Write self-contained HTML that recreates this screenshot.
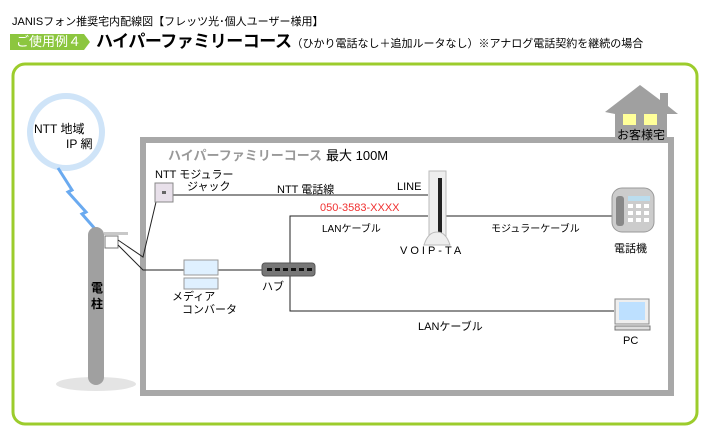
<!DOCTYPE html>
<html><head><meta charset="utf-8"><style>
body{margin:0;width:710px;height:439px;background:#fff;position:relative;overflow:hidden;font-family:"Liberation Sans","Noto Sans CJK JP",sans-serif;color:#000}
.a{position:absolute;white-space:nowrap}
</style></head><body>
<div class="a" style="left:12px;top:13px;font-size:11px">JANISフォン推奨宅内配線図【フレッツ光･個人ユーザー様用】</div>
<svg class="a" style="left:0;top:0" width="710" height="439">
<polygon points="10,34 84,34 90,42 84,50 10,50" fill="#8cc63f"/>
<rect x="13" y="64" width="684" height="360" rx="12" fill="none" stroke="#9ccc2c" stroke-width="3"/>
<circle cx="66" cy="132" r="36" fill="#fff" stroke="#cfe4f8" stroke-width="6"/>
<polyline points="58,168 72,190 68,192 86,212 82,214 96,230" fill="none" stroke="#6aaaf0" stroke-width="3"/>
<ellipse cx="96" cy="384" rx="40" ry="7" fill="#e4e4e4"/>
<rect x="88" y="227" width="16" height="158" rx="8" fill="#a0a0a0"/>
<rect x="104" y="232" width="24" height="3" fill="#c8c8c8"/>
<rect x="105" y="236" width="13" height="12" fill="#fff" stroke="#777"/>
<polygon points="605,112 640,85 660,100 660,93 668,93 668,106 678,114 667,114 667,140 615,140 615,114" fill="#a0a0a0"/>
<rect x="623" y="114" width="13" height="11" fill="#ffff99"/><rect x="644" y="114" width="13" height="11" fill="#ffff99"/>
<rect x="143" y="140" width="528" height="253" fill="none" stroke="#a8a8a8" stroke-width="6"/>
<g stroke="#222" stroke-width="1" fill="none">
<polyline points="118,240 143,257 156,202"/>
<polyline points="118,245 143,270 185,270"/>
<line x1="173" y1="195" x2="428" y2="195"/>
<polyline points="290,276 290,216 428,216"/>
<line x1="444" y1="216" x2="613" y2="216"/>
<line x1="218" y1="270" x2="262" y2="270"/>
<polyline points="290,276 290,311 614,311"/>
</g>
<rect x="155" y="183" width="18" height="19" fill="#e8e0ea" stroke="#888"/><rect x="162" y="191" width="4" height="3" fill="#666"/>
<rect x="184" y="260" width="34" height="15" fill="#dff0ff" stroke="#999"/><rect x="184" y="278" width="34" height="11" fill="#dff0ff" stroke="#999"/>
<rect x="262" y="263" width="53" height="13" rx="3" fill="#777" stroke="#555"/>
<g fill="#111"><rect x="267" y="268" width="5" height="3"/><rect x="275" y="268" width="5" height="3"/><rect x="283" y="268" width="5" height="3"/><rect x="291" y="268" width="5" height="3"/><rect x="299" y="268" width="5" height="3"/><rect x="307" y="268" width="5" height="3"/></g>
<rect x="429" y="171" width="17" height="66" fill="#eee" stroke="#bbb"/><rect x="438" y="178" width="4" height="55" fill="#222"/>
<path d="M424,245 Q428,232 437,232 Q446,232 450,245 Z" fill="#eee" stroke="#bbb"/>
<rect x="612" y="188" width="42" height="44" rx="10" fill="#ccc" stroke="#999"/>
<rect x="616" y="196" width="8" height="30" rx="3" fill="#888"/>
<rect x="628" y="196" width="22" height="5" fill="#bde"/>
<g fill="#fff"><rect x="628" y="204" width="5" height="4"/><rect x="636" y="204" width="5" height="4"/><rect x="644" y="204" width="5" height="4"/><rect x="628" y="211" width="5" height="4"/><rect x="636" y="211" width="5" height="4"/><rect x="644" y="211" width="5" height="4"/><rect x="628" y="218" width="5" height="4"/><rect x="636" y="218" width="5" height="4"/><rect x="644" y="218" width="5" height="4"/></g>
<rect x="615" y="299" width="34" height="25" fill="#eee" stroke="#888"/><rect x="619" y="302" width="26" height="18" fill="#bde0ff"/>
<rect x="615" y="326" width="35" height="4" fill="#ddd" stroke="#777"/>
</svg>
<div class="a" style="left:16px;top:34px;font-size:13px;color:#fff;line-height:16px">ご使用例４</div>
<div class="a" style="left:96px;top:31px;font-size:17px;font-weight:bold;line-height:21px;letter-spacing:-0.5px">ハイパーファミリーコース<span style="font-size:11px;font-weight:normal;letter-spacing:0">（ひかり電話なし＋追加ルータなし）※アナログ電話契約を継続の場合</span></div>
<div class="a" style="left:34px;top:120px;font-size:12px">NTT 地域</div>
<div class="a" style="left:66px;top:135px;font-size:12px">IP 網</div>
<div class="a" style="left:91px;top:280px;font-size:12px;line-height:16px;width:12px;font-weight:bold">電<br>柱</div>
<div class="a" style="left:168px;top:145px;font-size:13px;font-weight:bold;color:#999">ハイパーファミリーコース</div>
<div class="a" style="left:326px;top:145px;font-size:13px">最大 100M</div>
<div class="a" style="left:617px;top:126px;font-size:12px">お客様宅</div>
<div class="a" style="left:155px;top:166px;font-size:11px">NTT モジュラー</div>
<div class="a" style="left:187px;top:178px;font-size:11px">ジャック</div>
<div class="a" style="left:277px;top:181px;font-size:11px">NTT 電話線</div>
<div class="a" style="left:397px;top:181px;font-size:11px">LINE</div>
<div class="a" style="left:320px;top:202px;font-size:11px;color:#f03030">050-3583-XXXX</div>
<div class="a" style="left:322px;top:220px;font-size:10px">LANケーブル</div>
<div class="a" style="left:400px;top:245px;font-size:11px;letter-spacing:3px">VOIP-TA</div>
<div class="a" style="left:491px;top:220px;font-size:10px">モジュラーケーブル</div>
<div class="a" style="left:614px;top:240px;font-size:11px">電話機</div>
<div class="a" style="left:172px;top:288px;font-size:11px">メディア</div>
<div class="a" style="left:182px;top:301px;font-size:11px">コンバータ</div>
<div class="a" style="left:262px;top:278px;font-size:11px">ハブ</div>
<div class="a" style="left:418px;top:318px;font-size:11px">LANケーブル</div>
<div class="a" style="left:623px;top:335px;font-size:11px">PC</div>
</body></html>
